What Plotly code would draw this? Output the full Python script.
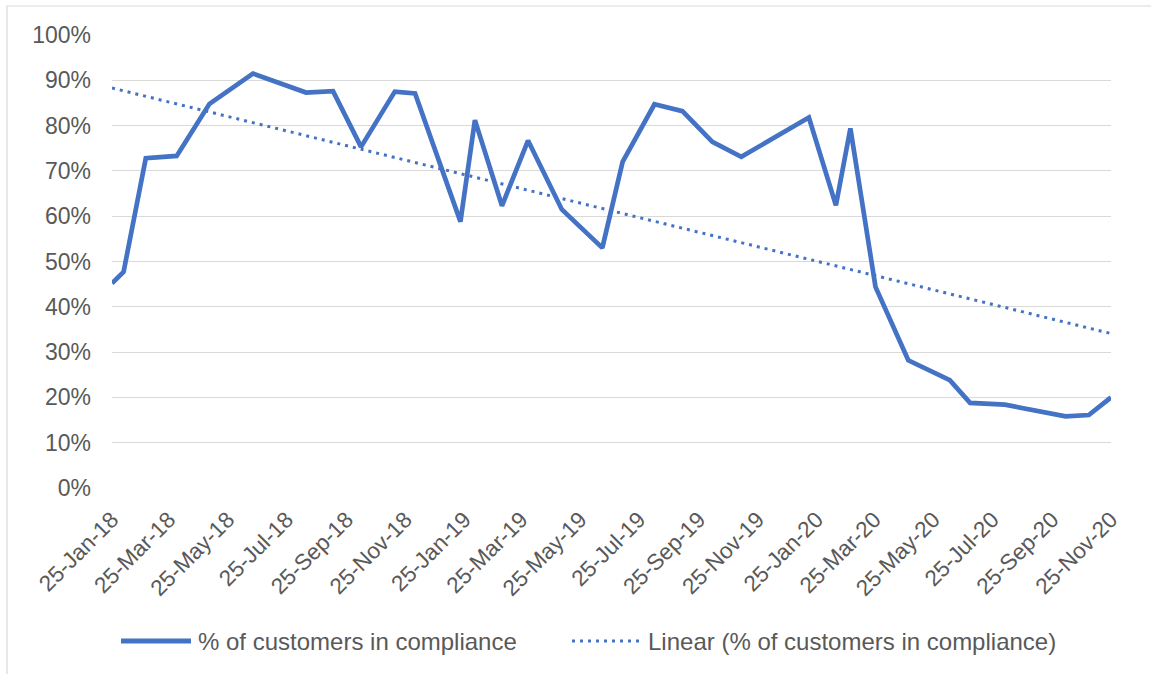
import plotly.graph_objects as go

# ---- data ----
dates = ["2018-01-25", "2018-02-06", "2018-03-01", "2018-04-02", "2018-05-06",
         "2018-06-20", "2018-08-14", "2018-09-11", "2018-10-10", "2018-11-14",
         "2018-12-05", "2019-01-21", "2019-02-05", "2019-03-05", "2019-04-01",
         "2019-05-06", "2019-06-17", "2019-07-08", "2019-08-10", "2019-09-08",
         "2019-10-09", "2019-11-08", "2020-01-17", "2020-02-14", "2020-02-29",
         "2020-03-26", "2020-04-29", "2020-06-11", "2020-07-02", "2020-08-07",
         "2020-10-09", "2020-11-02", "2020-11-25"]
compliance = [0.452, 0.477, 0.728, 0.733, 0.848,
              0.915, 0.873, 0.876, 0.753, 0.875,
              0.871, 0.588, 0.812, 0.623, 0.767,
              0.615, 0.530, 0.720, 0.847, 0.832,
              0.764, 0.731, 0.818, 0.624, 0.794,
              0.444, 0.282, 0.238, 0.188, 0.184,
              0.158, 0.161, 0.200]

trend_dates = ["2018-01-25", "2020-11-25"]
trend_values = [0.883, 0.341]

tick_dates = ["2018-01-25", "2018-03-25", "2018-05-25", "2018-07-25", "2018-09-25",
              "2018-11-25", "2019-01-25", "2019-03-25", "2019-05-25", "2019-07-25",
              "2019-09-25", "2019-11-25", "2020-01-25", "2020-03-25", "2020-05-25",
              "2020-07-25", "2020-09-25", "2020-11-25"]
tick_labels = ["25-Jan-18", "25-Mar-18", "25-May-18", "25-Jul-18", "25-Sep-18",
               "25-Nov-18", "25-Jan-19", "25-Mar-19", "25-May-19", "25-Jul-19",
               "25-Sep-19", "25-Nov-19", "25-Jan-20", "25-Mar-20", "25-May-20",
               "25-Jul-20", "25-Sep-20", "25-Nov-20"]

y_ticks = [0, 0.1, 0.2, 0.3, 0.4, 0.5, 0.6, 0.7, 0.8, 0.9, 1.0]
y_labels = ["0%", "10%", "20%", "30%", "40%", "50%", "60%", "70%", "80%", "90%", "100%"]

series_name = "% of customers in compliance"
trend_name = "Linear (% of customers in compliance)"

BLUE = "#4472C4"
TEXT = "#595959"
GRID = "#D9D9D9"
FONT = "Arial, Liberation Sans, sans-serif"

fig = go.Figure()
fig.add_trace(go.Scatter(x=trend_dates, y=trend_values, mode="lines", name=trend_name,
                         line=dict(color=BLUE, width=3, dash="3px,5px"),
                         showlegend=False, hoverinfo="skip"))
fig.add_trace(go.Scatter(x=dates, y=compliance, mode="lines", name=series_name,
                         line=dict(color=BLUE, width=4.7), showlegend=False))

W, H = 1151, 674
L, R, T, B = 112, 1111, 35, 488
pw, ph = R - L, B - T


def px(x):
    return (x - L) / pw


def py(y):
    return (B - y) / ph


shapes = [
    # chart border (light grey)
    dict(type="rect", xref="paper", yref="paper", x0=px(7), x1=px(1170), y0=py(690), y1=py(6),
         line=dict(color=GRID, width=1.2), fillcolor="rgba(0,0,0,0)", layer="below"),
    # legend samples
    dict(type="line", xref="paper", yref="paper", x0=px(121), x1=px(191), y0=py(641), y1=py(641),
         line=dict(color=BLUE, width=5)),
    dict(type="line", xref="paper", yref="paper", x0=px(572), x1=px(641), y0=py(641), y1=py(641),
         line=dict(color=BLUE, width=3, dash="3px,5px")),
]
annotations = [
    dict(xref="paper", yref="paper", x=px(196), y=py(641), text=series_name, showarrow=False,
         xanchor="left", yanchor="middle", font=dict(size=24, color=TEXT, family=FONT)),
    dict(xref="paper", yref="paper", x=px(646), y=py(641), text=trend_name, showarrow=False,
         xanchor="left", yanchor="middle", font=dict(size=24, color=TEXT, family=FONT)),
]

fig.update_layout(
    width=W, height=H,
    margin=dict(l=L, r=W - R, t=T, b=H - B),
    paper_bgcolor="white", plot_bgcolor="white",
    font=dict(family=FONT, size=23, color=TEXT),
    showlegend=False,
    shapes=shapes, annotations=annotations,
    xaxis=dict(type="date", range=[dates[0], dates[-1]], tickmode="array",
               tickvals=tick_dates, ticktext=tick_labels, tickangle=-45,
               showgrid=False, zeroline=False, showline=False, ticks="",
               ticklabelstandoff=13,
               tickfont=dict(size=22.5, color=TEXT, family=FONT)),
    yaxis=dict(range=[0, 1], tickmode="array", tickvals=y_ticks, ticktext=y_labels,
               showgrid=True, gridcolor=GRID, gridwidth=1.3, zeroline=False,
               showline=False, ticks="", ticklabelstandoff=20,
               tickfont=dict(size=23, color=TEXT, family=FONT)),
)

fig.write_html("out.html")
